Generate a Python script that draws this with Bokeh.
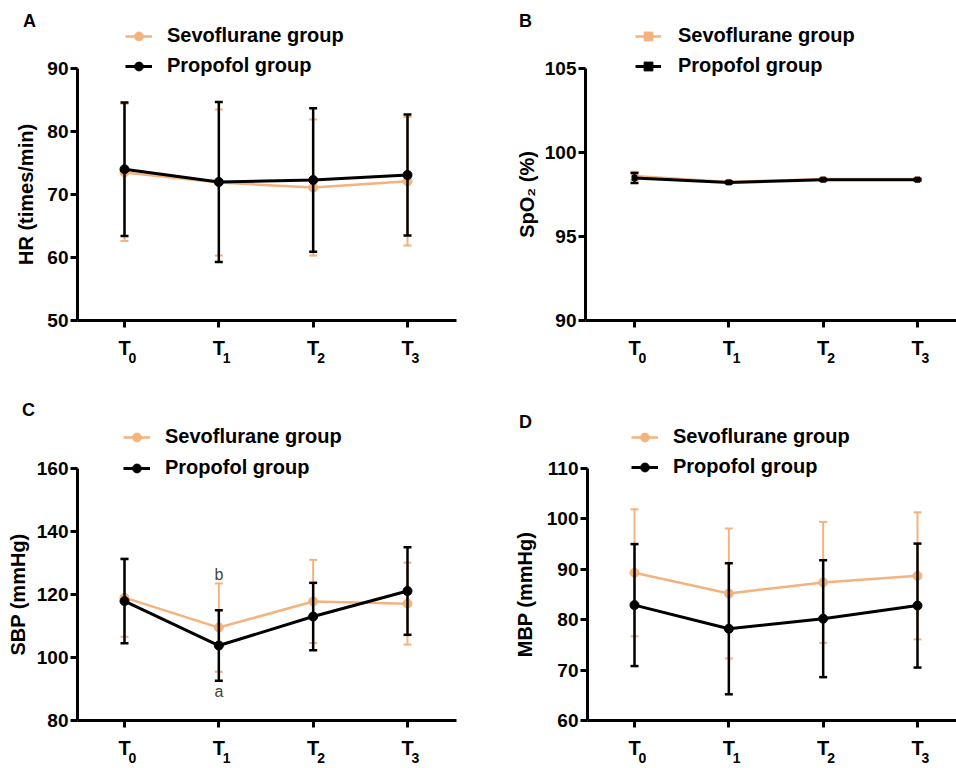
from bokeh.plotting import figure
from bokeh.models import Range1d, Legend, LegendItem, Label, FixedTicker, ColumnDataSource
from bokeh.layouts import column, row
from bokeh.embed import file_html
from bokeh.resources import INLINE

# ---------------- data ----------------
time_points = [0, 1, 2, 3]
time_main = ["T", "T", "T", "T"]
time_subs = ["0", "1", "2", "3"]
series_names = ["Sevoflurane group", "Propofol group"]

hr_sevo_mean = [73.5, 71.9, 71.1, 72.1]
hr_sevo_sd = [10.9, 11.6, 10.8, 10.2]
hr_prop_mean = [74.0, 72.0, 72.3, 73.1]
hr_prop_sd = [10.6, 12.7, 11.4, 9.6]

spo2_sevo_mean = [98.6, 98.25, 98.42, 98.42]
spo2_sevo_sd = [0.25, 0.05, 0.05, 0.05]
spo2_prop_mean = [98.48, 98.22, 98.38, 98.38]
spo2_prop_sd = [0.3, 0.05, 0.05, 0.05]

sbp_sevo_mean = [119.0, 109.5, 117.8, 117.1]
sbp_sevo_sd = [12.4, 14.0, 13.2, 13.0]
sbp_prop_mean = [117.9, 103.8, 113.0, 121.1]
sbp_prop_sd = [13.4, 11.2, 10.7, 13.9]

mbp_sevo_mean = [89.3, 85.2, 87.4, 88.7]
mbp_sevo_sd = [12.6, 12.9, 12.0, 12.6]
mbp_prop_mean = [82.9, 78.2, 80.2, 82.8]
mbp_prop_sd = [12.1, 13.0, 11.6, 12.3]

sbp_annot_text = ["b", "a"]
sbp_annot_x = [1, 1]
sbp_annot_y = [126.4, 89.3]

SEVO = "#F4B27C"
PROP = "#000000"
FONT = "Liberation Sans"
W, H = 478, 384


def make_panel(letter, ylabel, y_bot, y_top, y_step, sevo, prop, g, small=False):
    fl = g["fl"]
    fr = W - g["br"]
    fb = g["fb"]
    upy = (y_top - y_bot) / (fb - g["tt"])
    y_end = y_top + g["tt"] * upy
    y_start = y_end - H * upy
    upx = 3.0 / (g["x3"] - g["x0"])
    x_start = 0 - g["x0"] * upx
    x_end = x_start + W * upx

    def xd(px):
        return x_start + px * upx

    def yd(py):
        return y_end - py * upy

    p = figure(width=W, height=H, x_range=Range1d(x_start, x_end),
               y_range=Range1d(y_start, y_end), output_backend="svg",
               toolbar_location=None, min_border=0)
    p.title.visible = False
    p.outline_line_color = None
    p.grid.visible = False
    p.background_fill_color = "white"
    p.border_fill_color = "white"

    p.yaxis.fixed_location = xd(fl)
    p.xaxis.fixed_location = y_bot
    p.yaxis.ticker = FixedTicker(ticks=list(range(y_bot, y_top + 1, y_step)))
    p.yaxis.bounds = (y_bot, y_top)
    p.xaxis.ticker = FixedTicker(ticks=time_points)
    p.xaxis.bounds = (xd(fl), xd(fr))
    p.xaxis.major_label_overrides = {t: m for t, m in zip(time_points, time_main)}
    for ax in p.axis:
        ax.axis_line_width = 3
        ax.axis_line_color = "black"
        ax.major_tick_line_width = 3
        ax.major_tick_line_color = "black"
        ax.major_tick_out = 7
        ax.major_tick_in = 0
        ax.minor_tick_out = 0
        ax.minor_tick_in = 0
        ax.major_label_text_font = FONT
        ax.major_label_text_font_style = "bold"
        ax.major_label_text_font_size = "19px"
        ax.major_label_text_color = "black"
    p.xaxis.major_label_text_font_size = "20px"
    p.xaxis.major_label_standoff = 9
    p.yaxis.major_label_standoff = 2
    p.yaxis.axis_label = ylabel
    p.yaxis.axis_label_text_font = FONT
    p.yaxis.axis_label_text_font_style = "bold"
    p.yaxis.axis_label_text_font_size = "20px"
    p.yaxis.axis_label_text_color = "black"
    p.yaxis.axis_label_standoff = g["ls"]

    # subscripts of the time-point labels
    for t, sub in zip(time_points, time_subs):
        p.add_layout(Label(x=t, y=yd(fb + 37), x_offset=4, text=sub,
                           text_align="left", text_baseline="alphabetic",
                           text_font=FONT, text_font_style="bold",
                           text_font_size="14px", text_color="black"))

    items = []
    specs = [(sevo, SEVO, series_names[0], 2.5, 2),
             (prop, PROP, series_names[1], 3, 2.5)]
    for (mean, sd), color, name, lw, elw in specs:
        src = ColumnDataSource(dict(
            x=time_points, y=mean,
            upper=[m + s for m, s in zip(mean, sd)],
            lower=[m - s for m, s in zip(mean, sd)]))
        p.segment(x0="x", y0="lower", x1="x", y1="upper", source=src,
                  line_color=color, line_width=elw)
        for key in ("upper", "lower"):
            p.scatter(x="x", y=key, source=src, marker="dash",
                      size=8, line_color=color, line_width=elw)
        ln = p.line("x", "y", source=src, line_color=color, line_width=lw)
        sc = p.scatter("x", "y", source=src,
                       marker="square" if small else "circle",
                       size=5 if small else 9, fill_color=color,
                       line_color=color)
        items.append(LegendItem(label=name, renderers=[ln, sc]))

    item_h = 22
    spacing = g["pitch"] - item_h
    legend_h = 2 * item_h + spacing
    legend = Legend(items=items,
                    location=(g["lx"], H - (g["ly"] - item_h / 2 + legend_h)),
                    orientation="vertical",
                    label_text_font=FONT, label_text_font_style="bold",
                    label_text_font_size="20px", label_text_color="black",
                    label_height=item_h, glyph_height=item_h,
                    glyph_width=g["gw"], label_standoff=g["lso"],
                    spacing=spacing, padding=0, margin=0,
                    border_line_color=None, background_fill_alpha=0)
    p.add_layout(legend)

    p.add_layout(Label(x=xd(g["let"][0]), y=yd(g["let"][1]), text=letter,
                       text_align="center", text_baseline="middle",
                       text_font=FONT, text_font_style="bold",
                       text_font_size="18px", text_color="black"))
    return p


gA = dict(fl=77, br=22, tt=68, fb=320, x0=124, x3=407, lx=125, ly=37,
          pitch=29, gw=27, lso=15, let=(29, 20), ls=7)
gB = dict(fl=107, br=0, tt=68, fb=320, x0=156, x3=439, lx=157, ly=37,
          pitch=29, gw=26, lso=17, let=(47, 20), ls=4)
gC = dict(fl=77, br=22, tt=84, fb=336, x0=124, x3=407, lx=123, ly=54,
          pitch=30, gw=27, lso=15, let=(28, 25), ls=5)
gD = dict(fl=109, br=0, tt=84, fb=336, x0=156, x3=439, lx=153, ly=54,
          pitch=29, gw=27, lso=15, let=(47, 37), ls=8)

pA = make_panel("A", "HR (times/min)", 50, 90, 10,
                (hr_sevo_mean, hr_sevo_sd), (hr_prop_mean, hr_prop_sd), gA)
pB = make_panel("B", "SpO\u2082 (%)", 90, 105, 5,
                (spo2_sevo_mean, spo2_sevo_sd), (spo2_prop_mean, spo2_prop_sd),
                gB, small=True)
pC = make_panel("C", "SBP (mmHg)", 80, 160, 20,
                (sbp_sevo_mean, sbp_sevo_sd), (sbp_prop_mean, sbp_prop_sd), gC)
pD = make_panel("D", "MBP (mmHg)", 60, 110, 10,
                (mbp_sevo_mean, mbp_sevo_sd), (mbp_prop_mean, mbp_prop_sd), gD)

for txt, ax_, ay_ in zip(sbp_annot_text, sbp_annot_x, sbp_annot_y):
    pC.add_layout(Label(x=ax_, y=ay_, text=txt, text_align="center",
                        text_baseline="middle", text_font=FONT,
                        text_font_size="16px", text_color="#444444"))

layout = column(row(pA, pB), row(pC, pD))
open("out.html", "w").write(file_html(layout, INLINE))
